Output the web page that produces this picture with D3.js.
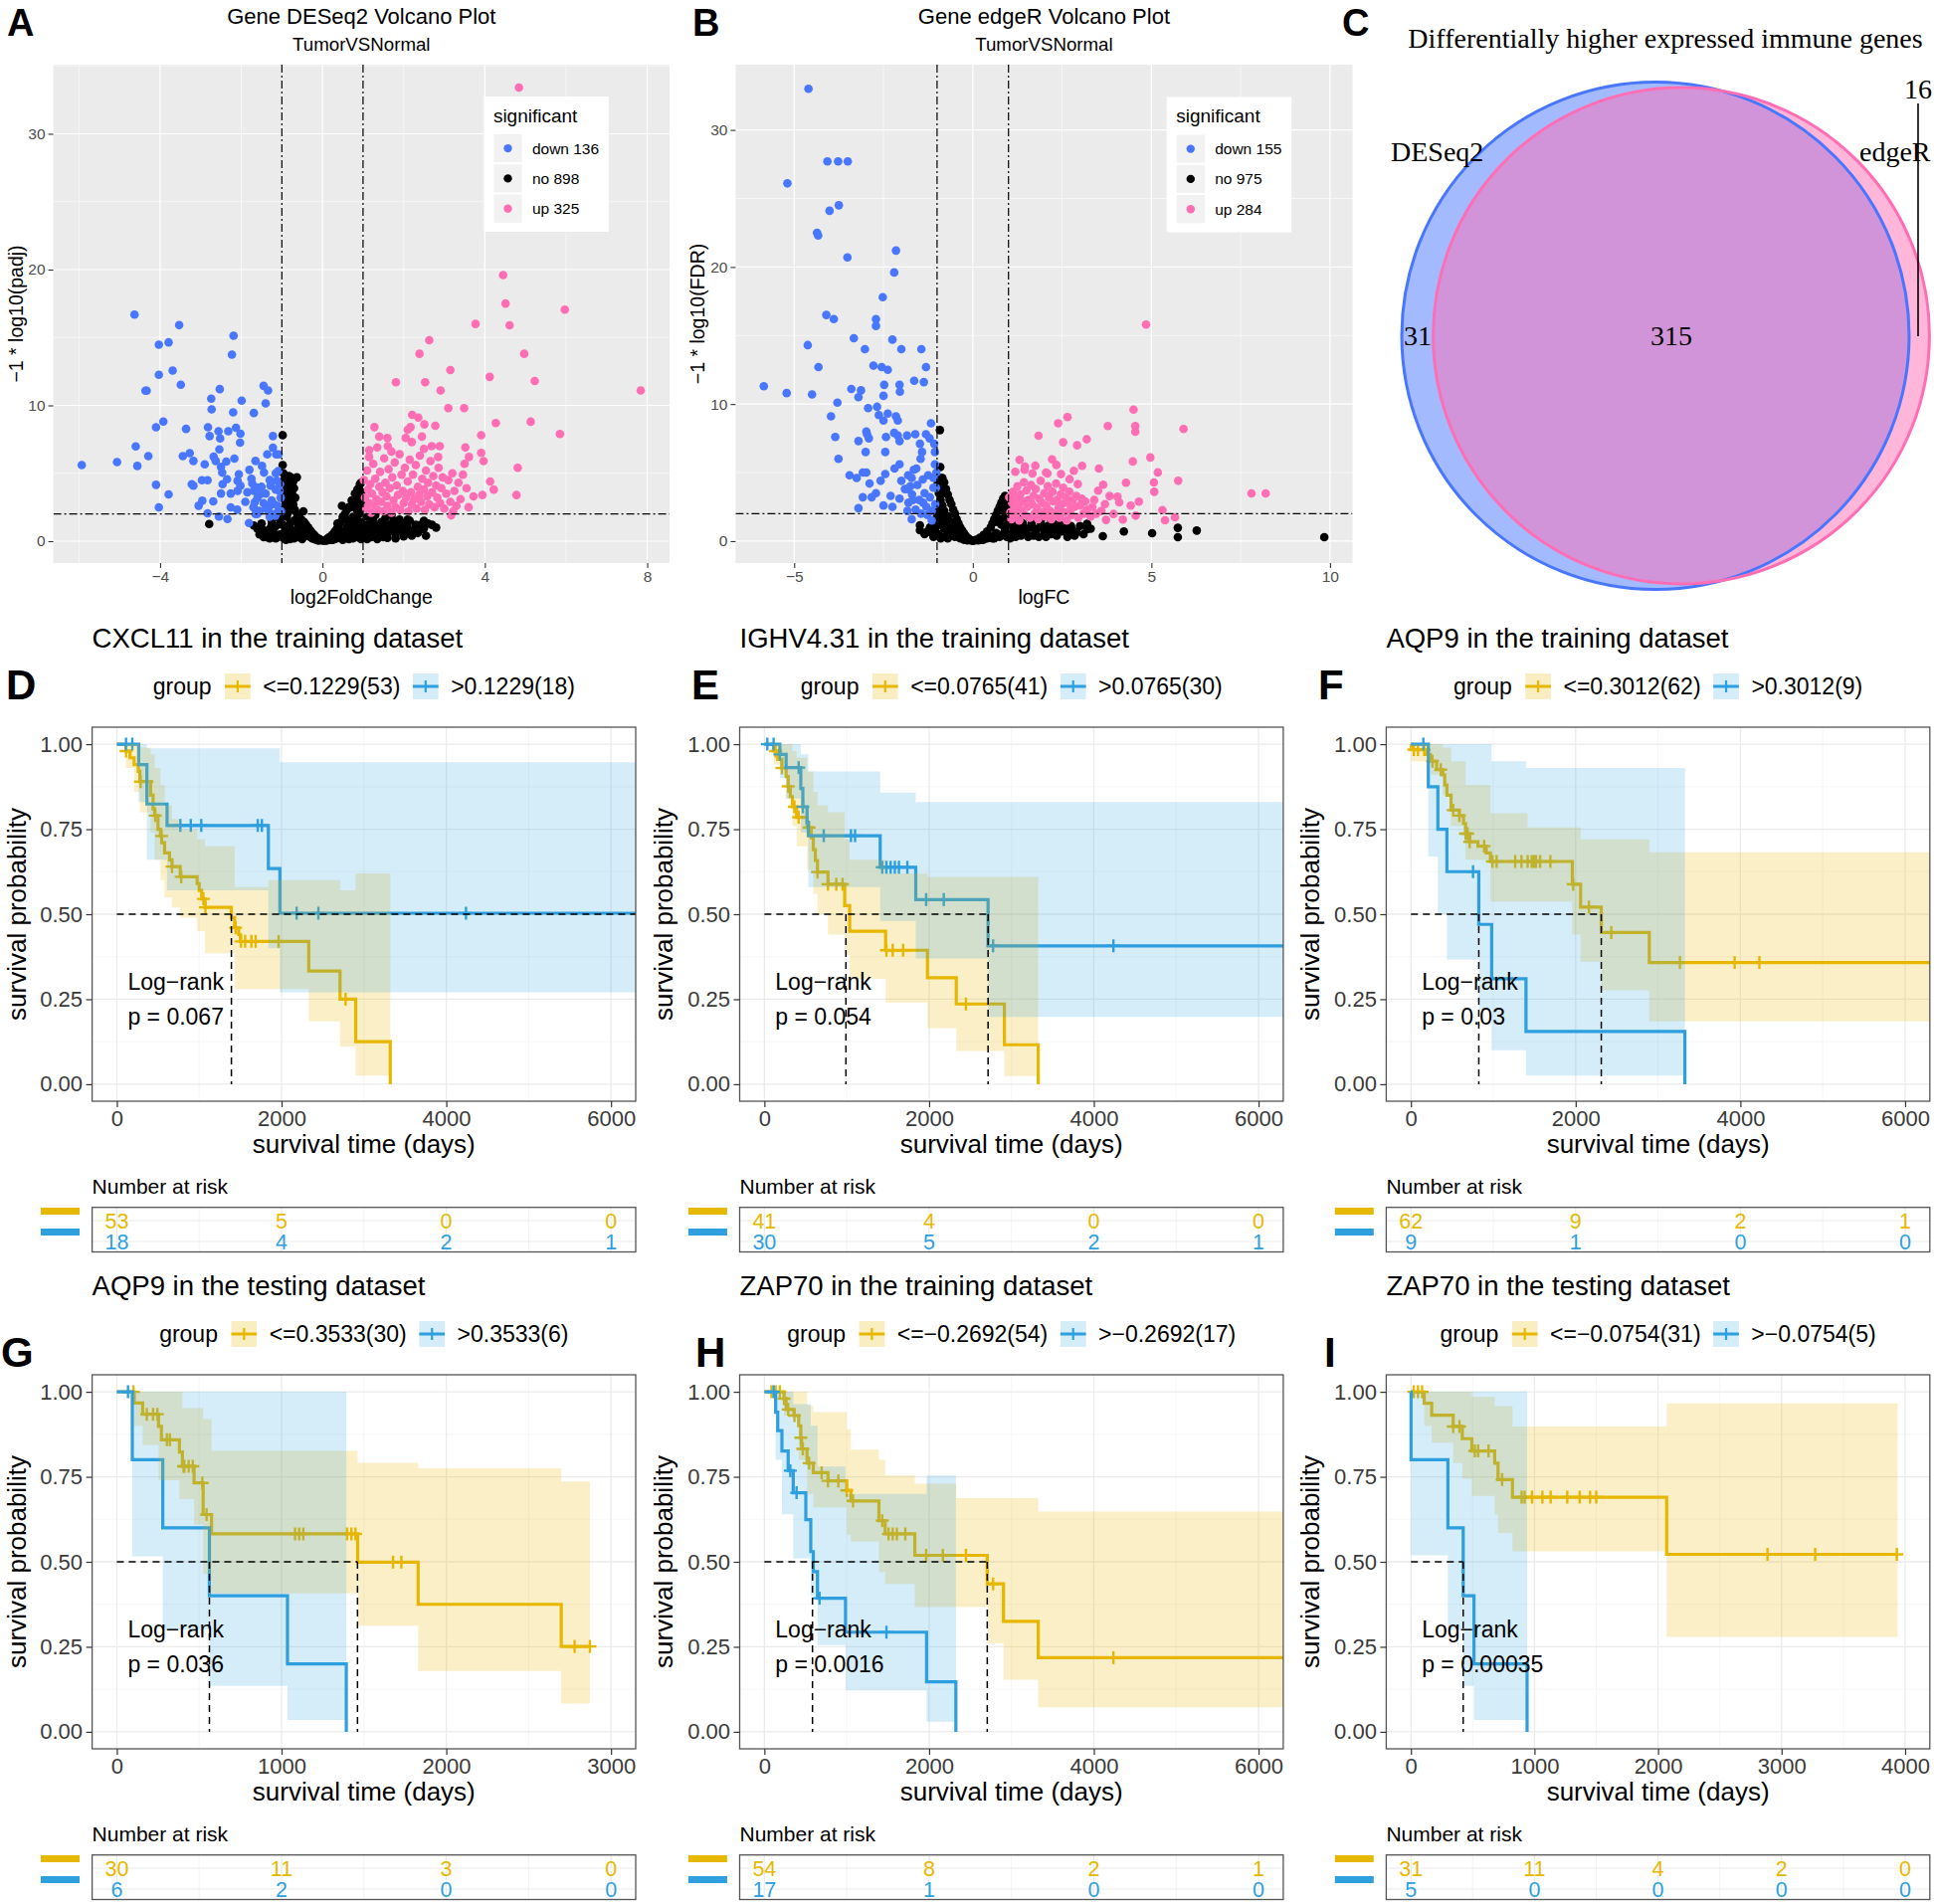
<!DOCTYPE html>
<html><head><meta charset="utf-8">
<script src="https://cdn.jsdelivr.net/npm/d3@7"></script>
<style>body{margin:0;background:#fff;overflow:hidden} svg{display:block}</style>
</head><body><svg id="c" width="1944" height="1914"></svg>
<script>
// ================= DATA =================
// --- Volcano A (DESeq2): [log2FoldChange, -log10(padj)]
const A_down = [[-5.93,5.61],[-5.06,5.83],[-4.63,16.69],[-4.60,6.98],[-4.56,5.54],[-4.36,11.08],[-4.33,11.08],[-4.29,6.27],[-4.10,8.39],[-4.10,4.15],[-4.03,14.47],[-4.03,12.25],[-4.03,2.49],[-3.92,8.81],[-3.79,14.64],[-3.79,3.44],[-3.69,12.57],[-3.53,15.91],[-3.49,11.52],[-3.44,6.27],[-3.36,8.27],[-3.27,6.49],[-3.18,5.91],[-3.22,4.20],[-3.18,4.08],[-3.05,2.61],[-2.96,2.98],[-2.90,5.66],[-2.97,4.49],[-2.83,4.49],[-2.83,2.05],[-2.82,8.39],[-2.78,7.74],[-2.74,10.49],[-2.73,9.71],[-2.69,2.93],[-2.68,6.22],[-2.63,5.91],[-2.56,8.10],[-2.53,11.20],[-2.52,7.56],[-2.55,1.81],[-2.54,6.76],[-2.50,5.47],[-2.47,5.05],[-2.46,4.20],[-2.50,3.51],[-2.37,5.86],[-2.35,4.56],[-2.34,1.63],[-2.32,8.10],[-2.26,3.51],[-2.26,2.49],[-2.23,13.74],[-2.19,15.13],[-2.20,9.49],[-2.17,6.08],[-2.13,8.35],[-2.09,4.44],[-2.09,3.71],[-2.10,2.32],[-2.06,4.93],[-2.03,7.25],[-2.02,7.91],[-2.02,4.08],[-1.99,10.35],[-1.81,1.34],[-1.80,5.25],[-1.73,4.25],[-1.69,9.44],[-1.69,3.71],[-1.67,2.86],[-1.65,5.91],[-1.61,3.95],[-1.57,2.24],[-1.53,3.47],[-1.49,5.54],[-1.45,11.44],[-1.44,5.05],[-1.40,10.15],[-1.40,2.61],[-1.36,6.39],[-1.34,11.10],[-1.32,2.49],[-1.28,4.08],[-1.22,6.88],[-1.22,7.74],[-1.20,2.73],[-1.14,6.39],[-1.12,4.44],[-1.09,5.17],[-1.08,6.39],[-1.06,3.71],[-1.08,2.24],[-1.16,1.88],[-1.61,2.00],[-1.7,2.5],[-1.6,3.2],[-1.55,2.2],[-1.5,4.0],[-1.45,2.8],[-1.4,3.5],[-1.35,2.3],[-1.3,4.5],[-1.25,3.0],[-1.2,2.0],[-1.15,3.8],[-1.1,2.6],[-1.05,4.2],[-1.03,3.2],[-1.02,2.2],[-1.9,2.9],[-1.85,3.6],[-1.75,4.6],[-1.65,2.0],[-1.3,1.8],[-1.15,5.0]];
const A_no = [[-0.98,7.8],[-0.98,5.6],[-0.96,5.0],[-0.93,4.6],[-0.88,4.7],[-0.83,4.8],[-0.78,4.7],[-0.72,4.4],[-0.63,4.7],[-0.7,3.9],[-0.95,3.8],[-0.92,3.3],[-0.85,3.0],[-0.8,3.6],[-0.75,3.2],[-0.9,2.8],[-0.97,2.5],[-0.95,2.1],[-0.88,1.8],[-0.8,2.4],[-0.72,2.7],[-0.68,2.3],[-0.62,2.0],[-0.58,1.8],[-0.52,1.6],[-0.47,2.2],[-0.45,1.4],[-0.4,1.2],[-0.35,1.0],[-0.3,0.8],[-0.25,0.6],[-0.2,0.45],[-0.15,0.3],[-0.1,0.2],[-0.05,0.1],[0,0.05],[-0.6,1.2],[-0.7,1.5],[-0.8,1.3],[-0.9,1.0],[-0.95,0.6],[-0.85,0.5],[-0.75,0.8],[-0.65,0.6],[-0.55,0.9],[-0.5,0.5],[-0.4,0.4],[-0.3,0.3],[-0.2,0.15],[-0.6,0.3],[-0.7,0.2],[-0.95,0.2],[-1.1,0.3],[-1.2,0.6],[-1.3,0.9],[-1.38,0.3],[-1.45,0.8],[-1.55,0.5],[-1.3,0.2],[-1.15,1.1],[-1.25,1.5],[-2.79,1.27],[-1.69,1.15],[-1.05,1.6],[-1.0,1.9],[-1.02,1.3],[0.05,0.05],[0.1,0.15],[0.15,0.25],[0.2,0.35],[0.25,0.5],[0.3,0.7],[0.35,0.9],[0.4,1.1],[0.45,1.4],[0.48,2.6],[0.5,1.8],[0.55,2.0],[0.6,2.3],[0.65,2.5],[0.7,2.5],[0.72,3.0],[0.75,2.8],[0.8,3.5],[0.83,3.2],[0.86,3.8],[0.9,3.9],[0.92,4.2],[0.95,4.3],[0.97,3.6],[0.98,3.0],[0.99,2.4],[0.37,1.3],[0.3,0.3],[0.4,0.5],[0.5,0.7],[0.6,1.0],[0.7,1.3],[0.8,1.6],[0.9,2.0],[0.55,0.4],[0.65,0.7],[0.75,0.9],[0.85,1.1],[0.95,1.4],[0.2,0.1],[0.3,0.15],[0.45,0.25],[0.6,0.35],[0.8,0.4],[0.9,0.6],[1.05,0.6],[1.1,1.2],[1.15,0.4],[1.2,0.9],[1.25,1.5],[1.3,0.7],[1.35,1.1],[1.4,0.5],[1.45,1.4],[1.5,0.9],[1.55,1.7],[1.6,0.6],[1.65,1.2],[1.7,0.8],[1.75,1.5],[1.8,0.5],[1.85,1.1],[1.9,1.6],[1.95,0.8],[2.0,1.3],[2.05,0.6],[2.1,1.0],[2.15,1.5],[2.23,0.75],[2.3,1.2],[2.4,1.19],[2.45,0.9],[2.6,1.3],[1.1,1.8],[1.3,1.9],[1.5,0.3],[1.7,1.9],[1.2,0.3],[2.5,1.5],[2.7,1.2],[-0.9,0.1],[-0.8,0.15],[-0.7,0.4],[-0.6,0.7],[-0.5,0.15],[-0.45,0.8],[-0.35,0.5],[-0.25,0.2],[-0.15,0.1],[-0.1,0.05],[0.1,0.05],[0.15,0.1],[0.25,0.1],[0.35,0.2],[0.5,0.1],[0.5,0.45],[0.65,0.15],[0.7,0.5],[0.75,0.2],[0.85,0.3],[0.95,0.15],[1.0,0.9],[1.0,0.3],[1.1,0.15],[1.2,1.3],[1.3,0.4],[1.35,0.15],[1.45,0.6],[1.55,1.1],[1.6,0.25],[1.75,1.0],[1.8,0.2],[1.9,0.9],[2.0,0.35],[2.1,1.6],[2.2,0.4],[2.35,0.6],[2.5,0.95],[2.55,0.4],[2.8,1.0],[-1.05,0.5],[-1.15,0.2],[-1.25,1.2],[-1.35,0.6],[-1.45,0.3],[-1.6,0.9],[-1.5,1.3],[-1.2,1.8],[-0.85,2.1],[-0.65,1.6],[-0.55,1.3],[-0.98,1.2],[-0.75,3.6],[-0.9,3.8],[-0.85,4.2],[-0.67,3.2],[0.65,1.4],[0.75,1.8],[0.85,2.3],[0.9,2.8],[0.95,3.3],[0.6,1.6],[0.45,0.6],[0.35,0.45]];
const A_up = [[4.84,33.4],[4.45,19.6],[4.51,17.5],[5.97,17.05],[3.77,16.0],[4.61,15.9],[2.63,14.8],[2.39,13.8],[4.97,13.8],[3.15,12.6],[4.12,12.1],[1.81,11.7],[2.53,11.7],[5.23,11.8],[2.91,11.1],[7.84,11.1],[3.10,9.8],[3.49,9.8],[2.21,9.3],[2.36,9.1],[4.27,8.7],[5.13,8.8],[1.28,8.4],[2.17,8.4],[2.51,8.6],[2.78,8.5],[5.85,7.9],[1.40,7.7],[2.05,7.6],[2.45,7.7],[3.91,7.8],[1.61,7.0],[2.69,7.0],[2.89,7.0],[3.52,6.9],[1.15,6.7],[3.91,6.5],[3.61,6.2],[3.97,5.9],[4.81,5.4],[3.46,4.9],[4.13,4.4],[4.22,3.8],[3.94,3.4],[3.72,3.3],[4.78,3.4],[3.22,2.2],[3.17,1.9],[1.02,4.5],[1.05,3.2],[1.08,2.4],[1.1,5.2],[1.12,3.8],[1.15,2.8],[1.18,4.2],[1.2,2.1],[1.22,3.5],[1.25,5.7],[1.28,2.6],[1.3,4.6],[1.33,3.1],[1.36,2.3],[1.4,4.0],[1.42,5.1],[1.45,2.9],[1.48,3.6],[1.5,2.2],[1.52,6.1],[1.55,4.3],[1.58,3.3],[1.6,2.6],[1.63,5.3],[1.66,3.9],[1.7,2.1],[1.72,4.7],[1.75,3.0],[1.78,5.8],[1.8,2.5],[1.83,4.1],[1.86,3.4],[1.9,6.4],[1.92,2.3],[1.95,4.9],[1.98,3.7],[2.0,2.8],[2.03,5.4],[2.06,3.2],[2.1,4.4],[2.12,2.2],[2.15,6.0],[2.18,3.6],[2.2,2.7],[2.23,4.9],[2.26,3.1],[2.3,5.6],[2.32,2.4],[2.35,4.0],[2.38,3.4],[2.4,6.3],[2.43,2.9],[2.46,4.6],[2.5,3.8],[2.52,2.3],[2.55,5.2],[2.58,3.3],[2.6,4.3],[2.63,2.7],[2.66,5.9],[2.7,3.6],[2.73,4.8],[2.76,2.5],[2.8,4.1],[2.83,3.2],[2.86,5.4],[2.9,2.8],[2.93,3.9],[2.96,4.7],[3.0,2.4],[3.05,3.5],[3.1,4.5],[3.15,2.9],[3.2,5.0],[3.25,3.7],[3.3,2.6],[3.35,4.3],[3.4,3.1],[3.5,5.7],[3.55,3.9],[3.6,2.5],[1.35,6.9],[1.7,6.6],[2.2,7.3],[2.5,6.8],[2.85,6.2],[1.15,6.2],[1.6,7.6],[2.1,8.2]];
// --- Volcano B (edgeR): [logFC, -log10(FDR)]
const B_down = [[-4.60,33.0],[-4.07,27.7],[-3.77,27.7],[-3.50,27.7],[-5.19,26.1],[-3.75,24.5],[-4.01,24.1],[-4.36,22.5],[-4.33,22.3],[-3.51,20.7],[-2.15,21.2],[-2.20,19.6],[-2.52,17.8],[-4.10,16.5],[-3.89,16.2],[-2.71,16.2],[-2.71,15.7],[-4.62,14.3],[-3.33,14.8],[-3.02,14.0],[-2.25,14.7],[-2.00,14.0],[-1.44,14.0],[-4.32,12.7],[-2.78,12.8],[-2.55,12.7],[-2.38,12.5],[-1.31,12.7],[-5.85,11.3],[-2.48,11.4],[-2.05,11.4],[-1.64,11.7],[-1.37,11.6],[-5.21,10.8],[-4.50,10.7],[-3.40,11.1],[-3.13,11.0],[-2.04,10.9],[-3.20,10.5],[-2.50,10.6],[-3.79,10.1],[-2.93,9.7],[-2.68,9.8],[-2.38,9.3],[-2.15,9.1],[-3.97,9.1],[-2.63,9.2],[-2.50,8.8],[-2.10,8.8],[-1.17,8.6],[-2.98,8.0],[-2.20,7.9],[-3.85,7.6],[-2.96,7.8],[-2.43,7.6],[-2.10,7.7],[-1.84,7.7],[-1.61,7.8],[-1.31,7.8],[-3.20,7.3],[-2.91,7.5],[-2.05,7.3],[-1.48,7.1],[-1.21,7.5],[-1.08,7.1],[-3.00,6.5],[-2.45,6.5],[-1.42,6.5],[-3.76,6.0],[-1.46,6.0],[-1.06,5.6],[-2.05,5.6],[-2.19,5.3],[-2.45,4.9],[-2.98,5.0],[-3.08,5.0],[-3.45,4.8],[-3.25,4.6],[-2.89,4.2],[-2.58,4.4],[-1.81,4.8],[-1.71,4.6],[-1.58,5.3],[-1.83,3.8],[-2.71,3.5],[-3.08,3.2],[-2.83,3.2],[-2.30,3.3],[-2.05,3.1],[-1.68,3.0],[-1.39,2.8],[-2.50,2.6],[-2.25,2.5],[-3.20,2.4],[-1.83,2.2],[-1.71,1.6],[-1.27,1.9],[-1.15,1.5],[-1.03,3.9],[-1.10,4.6],[-1.06,6.5],[-1.8,2.8],[-1.7,3.4],[-1.6,2.3],[-1.55,4.1],[-1.5,3.0],[-1.45,2.0],[-1.4,4.5],[-1.35,3.5],[-1.3,2.5],[-1.25,4.8],[-1.2,3.2],[-1.15,2.2],[-1.1,3.9],[-1.05,2.7],[-1.02,5.0],[-1.9,3.8],[-2.0,4.4],[-1.65,5.2],[-1.75,4.0]];
const B_no = [[-0.92,8.1],[-0.91,5.4],[-0.85,4.6],[-0.8,4.3],[-0.75,3.8],[-0.7,3.4],[-0.65,3.0],[-0.6,2.7],[-0.55,2.3],[-0.5,2.0],[-0.45,1.6],[-0.4,1.3],[-0.35,1.0],[-0.3,0.8],[-0.25,0.6],[-0.2,0.4],[-0.15,0.25],[-0.1,0.15],[-0.05,0.05],[0,0.02],[-0.95,3.5],[-0.9,3.0],[-0.85,2.6],[-0.95,2.2],[-0.88,1.9],[-0.8,2.2],[-0.7,1.8],[-0.6,1.4],[-0.5,1.1],[-0.4,0.7],[-0.3,0.4],[-0.9,1.2],[-0.8,0.9],[-0.7,0.6],[-0.6,0.4],[-0.5,0.3],[-0.95,0.5],[-1.05,0.9],[-1.15,0.6],[-1.27,0.7],[-1.48,0.8],[-1.48,1.15],[-1.1,1.5],[-1.0,1.8],[-0.97,2.7],[-0.93,3.8],[0.05,0.05],[0.1,0.1],[0.2,0.25],[0.3,0.45],[0.4,0.7],[0.5,1.0],[0.55,1.3],[0.6,1.6],[0.65,1.9],[0.7,2.2],[0.75,2.5],[0.8,2.8],[0.85,3.1],[0.9,3.3],[0.95,3.0],[0.98,2.5],[0.3,0.1],[0.5,0.3],[0.7,0.5],[0.9,0.8],[0.6,0.2],[0.8,1.2],[0.9,1.7],[0.95,2.0],[0.4,0.2],[1.05,0.5],[1.1,1.1],[1.2,0.3],[1.3,0.8],[1.4,1.3],[1.5,0.6],[1.6,1.0],[1.7,0.4],[1.8,0.9],[1.9,1.4],[2.0,0.6],[2.1,1.1],[2.2,0.5],[2.3,0.9],[2.4,1.3],[2.5,0.7],[2.6,1.0],[2.7,0.5],[2.8,0.8],[2.91,0.65],[3.0,1.1],[3.2,1.26],[3.2,0.87],[3.1,0.5],[2.2,1.5],[1.3,1.6],[1.6,1.7],[2.0,1.8],[1.15,1.9],[3.64,0.36],[4.23,0.70],[5.02,0.58],[5.74,0.97],[5.74,0.29],[6.27,0.77],[9.84,0.29],[-0.9,0.2],[-0.8,0.3],[-0.7,0.2],[-0.65,0.9],[-0.55,0.6],[-0.45,0.4],[-0.35,0.2],[-0.25,0.1],[-0.15,0.05],[0.15,0.05],[0.25,0.1],[0.35,0.3],[0.45,0.4],[0.55,0.2],[0.65,0.6],[0.75,0.3],[0.85,0.5],[0.95,0.3],[0.95,1.1],[1.0,1.5],[1.05,0.2],[1.15,0.8],[1.25,1.2],[1.35,0.4],[1.45,0.9],[1.55,0.3],[1.65,1.3],[1.75,0.7],[1.85,0.3],[1.95,1.0],[2.05,0.3],[2.15,0.8],[2.25,1.2],[2.35,0.4],[2.45,0.9],[2.55,1.3],[2.65,0.3],[2.75,1.1],[2.85,0.4],[3.3,0.9],[-1.0,1.2],[-1.1,0.3],[-1.2,1.0],[-1.35,0.5],[-0.95,1.5],[-0.85,1.4],[-0.75,1.2],[-0.98,4.2],[-0.9,4.6],[-0.85,3.9],[-0.8,3.5],[0.85,2.2],[0.9,2.5],[0.95,2.7],[0.75,1.6],[0.7,1.4]];
const B_up = [[4.85,15.8],[4.50,9.6],[2.65,9.05],[2.39,8.6],[3.78,8.4],[4.55,8.4],[4.55,7.98],[5.90,8.18],[1.84,7.69],[3.19,7.43],[2.53,7.21],[2.92,6.99],[4.97,6.10],[4.48,5.81],[1.31,5.93],[2.22,5.97],[3.06,5.49],[3.53,5.30],[1.46,5.44],[1.19,5.06],[1.67,4.93],[2.09,4.93],[2.83,5.13],[5.18,5.01],[2.34,5.56],[2.47,4.89],[2.71,4.52],[2.94,4.16],[4.29,4.26],[5.07,4.28],[5.75,4.40],[5.08,3.60],[3.65,4.11],[3.51,3.68],[7.80,3.48],[8.20,3.48],[3.83,3.29],[4.05,3.24],[4.10,2.83],[4.42,2.59],[4.65,2.88],[5.31,2.27],[5.38,1.52],[5.66,1.74],[4.56,1.86],[4.20,1.57],[3.73,1.55],[3.94,1.98],[1.02,3.2],[1.05,2.1],[1.08,1.6],[1.1,2.8],[1.13,3.6],[1.16,2.4],[1.2,1.8],[1.22,3.1],[1.25,4.0],[1.28,2.6],[1.3,1.5],[1.33,3.4],[1.36,2.2],[1.4,2.9],[1.43,4.3],[1.46,1.9],[1.5,3.7],[1.53,2.5],[1.56,3.0],[1.6,1.7],[1.63,4.1],[1.66,2.7],[1.7,3.3],[1.73,2.0],[1.76,3.8],[1.8,2.4],[1.83,1.6],[1.86,3.1],[1.9,4.4],[1.93,2.8],[1.96,2.1],[2.0,3.5],[2.03,1.8],[2.06,2.6],[2.1,4.0],[2.13,3.2],[2.16,2.2],[2.2,1.6],[2.23,3.6],[2.26,2.9],[2.3,2.0],[2.33,4.2],[2.36,3.0],[2.4,2.4],[2.43,1.7],[2.46,3.4],[2.5,2.7],[2.53,3.9],[2.56,2.1],[2.6,3.2],[2.63,1.5],[2.66,2.8],[2.7,3.6],[2.73,2.3],[2.76,1.9],[2.8,3.0],[2.85,2.5],[2.9,3.3],[2.95,1.7],[3.0,2.6],[3.05,3.1],[3.1,2.0],[3.15,2.9],[3.2,2.3],[3.3,1.8],[3.35,2.5],[3.4,3.0],[3.45,2.0],[3.6,2.2],[3.7,2.7],[1.45,5.2],[1.75,5.5],[2.05,5.0]];
const A_counts = {down:136, no:898, up:325};
const B_counts = {down:155, no:975, up:284};
const volcXTicksA = [-4,0,4,8], volcXTicksB = [-5,0,5,10], volcYTicks = [0,10,20,30];

// --- Venn C
const vennNames = ['DESeq2','edgeR'];
const vennOnly = [31, 16];
const vennBoth = 315;

// --- Kaplan-Meier panels: steps [time, surv], censor times, CI [time, lower, upper]
const D_lo_steps=[[0,1],[110,0.98],[160,0.96],[210,0.94],[260,0.92],[280,0.89],[410,0.85],[440,0.81],[460,0.79],[500,0.75],[530,0.73],[545,0.71],[580,0.68],[640,0.66],[670,0.64],[770,0.61],[975,0.59],[1000,0.57],[1030,0.545],[1070,0.52],[1390,0.49],[1430,0.46],[1480,0.44],[1500,0.42],[2330,0.333],[2710,0.25],[2900,0.125],[3320,0]];
const D_lo_cens=[112,289,365,467,543,670,782,1051,1076,1442,1508,1558,1634,1685,1964,2777];
const D_lo_ci=[[0,1,1],[110,0.93,1],[210,0.86,1],[280,0.80,0.99],[410,0.74,0.97],[460,0.66,0.93],[530,0.60,0.88],[580,0.55,0.82],[670,0.52,0.78],[770,0.49,0.75],[975,0.45,0.72],[1070,0.385,0.70],[1430,0.28,0.58],[1840,0.28,0.60],[2330,0.185,0.60],[2710,0.11,0.57],[2900,0.025,0.62]];
const D_hi_steps=[[0,1],[265,0.94],[365,0.824],[610,0.761],[1840,0.634],[1980,0.503]];
const D_hi_cens=[112,188,771,898,1025,1711,1761,2183,2447,4239];
const D_hi_ci=[[0,1,1],[265,0.83,1],[365,0.66,0.988],[610,0.57,0.988],[1840,0.40,0.988],[1980,0.27,0.947]];

const E_lo_steps=[[0,1],[112,0.98],[162,0.955],[213,0.93],[264,0.905],[289,0.876],[315,0.846],[340,0.816],[391,0.785],[518,0.755],[569,0.725],[594,0.69],[619,0.658],[645,0.624],[772,0.588],[975,0.525],[1036,0.45],[1472,0.394],[1980,0.313],[2330,0.236],[2914,0.116],[3325,0]];
const E_lo_cens=[137,213,289,365,416,543,645,772,873,949,1482,1558,1685,2447];
const E_lo_ci=[[0,1,1],[112,0.94,1],[264,0.84,1],[340,0.76,0.98],[391,0.70,0.96],[518,0.63,0.92],[594,0.56,0.86],[645,0.50,0.82],[772,0.44,0.80],[975,0.38,0.72],[1036,0.31,0.66],[1472,0.24,0.62],[1980,0.165,0.61],[2330,0.098,0.61],[2914,0.024,0.61]];
const E_hi_steps=[[0,1],[188,0.97],[264,0.931],[442,0.87],[467,0.816],[518,0.77],[533,0.731],[1406,0.638],[1838,0.543],[2716,0.407]];
const E_hi_cens=[36,112,188,416,467,721,1051,1101,1431,1482,1533,1584,1634,1736,1964,2178,2777,4238];
const E_hi_ci=[[0,1,1],[188,0.90,1],[264,0.84,1],[442,0.74,0.97],[533,0.58,0.92],[1406,0.48,0.858],[1838,0.37,0.83],[2716,0.198,0.83]];

const F_lo_steps=[[0,1],[5,0.984],[185,0.97],[236,0.95],[312,0.925],[387,0.91],[410,0.88],[437,0.85],[487,0.806],[588,0.79],[638,0.767],[663,0.737],[713,0.713],[814,0.70],[915,0.68],[965,0.655],[1960,0.588],[2060,0.521],[2311,0.446],[2894,0.358]];
const F_lo_cens=[35,85,161,261,362,513,588,663,688,714,889,990,1040,1266,1342,1417,1467,1492,1518,1568,1693,1970,2161,2432,3266,3930,4231];
const F_lo_ci=[[0,1,1],[5,0.95,1],[236,0.91,1],[387,0.85,0.99],[487,0.76,0.95],[663,0.66,0.88],[965,0.537,0.797],[1417,0.537,0.755],[1960,0.44,0.755],[2060,0.36,0.72],[2311,0.276,0.72],[2894,0.185,0.682]];
const F_hi_steps=[[0,1],[211,0.875],[327,0.75],[437,0.625],[824,0.47],[980,0.31],[1397,0.155],[3326,0]];
const F_hi_cens=[151,754];
const F_hi_ci=[[0,1,1],[211,0.67,1],[327,0.50,1],[437,0.367,1],[824,0.22,1],[980,0.10,0.95],[1397,0.025,0.93]];

const G_lo_steps=[[0,1],[106,0.967],[157,0.934],[253,0.898],[271,0.859],[380,0.823],[398,0.781],[469,0.732],[524,0.639],[575,0.582],[1462,0.499],[1829,0.375],[2698,0.251]];
const G_lo_cens=[101,182,220,246,304,322,405,410,436,461,519,545,1082,1107,1132,1398,1424,1449,1677,1727,2779,2872];
const G_lo_ci=[[0,1,1],[106,0.90,1],[157,0.844,1],[253,0.74,1],[380,0.684,1],[398,0.684,0.952],[469,0.61,0.952],[524,0.465,0.92],[575,0.407,0.826],[1462,0.312,0.791],[1829,0.179,0.775],[2698,0.083,0.736]];
const G_hi_steps=[[0,1],[94,0.8],[279,0.6],[562,0.4],[1036,0.2],[1393,0]];
const G_hi_cens=[68];
const G_hi_ci=[[0,1,1],[94,0.516,1],[279,0.30,1],[562,0.135,1],[1036,0.035,1]];

const H_lo_steps=[[0,1],[238,0.98],[264,0.948],[360,0.93],[416,0.90],[442,0.865],[452,0.832],[518,0.79],[594,0.762],[772,0.738],[1000,0.71],[1050,0.679],[1391,0.621],[1467,0.582],[1827,0.519],[2706,0.435],[2903,0.325],[3325,0.218]];
const H_lo_cens=[86,137,188,238,289,365,442,467,543,695,772,898,1000,1076,1431,1508,1558,1609,1711,1964,2167,2447,2777,4238];
const H_lo_ci=[[0,1,1],[238,0.93,1],[416,0.80,1],[518,0.70,0.96],[594,0.66,0.94],[1000,0.58,0.89],[1050,0.56,0.83],[1391,0.47,0.80],[1467,0.435,0.754],[1827,0.367,0.73],[2330,0.367,0.687],[2706,0.26,0.687],[2903,0.153,0.687],[3325,0.072,0.648]];
const H_hi_steps=[[0,1],[137,0.94],[162,0.886],[213,0.826],[289,0.768],[350,0.703],[503,0.624],[563,0.53],[594,0.471],[645,0.393],[985,0.293],[1969,0.147],[2325,0]];
const H_hi_cens=[112,315,391,670,1482];
const H_hi_ci=[[0,1,1],[137,0.80,1],[213,0.64,1],[350,0.51,0.964],[563,0.40,0.90],[645,0.255,0.78],[985,0.122,0.70],[1969,0.03,0.754]];

const I_lo_steps=[[0,1],[107,0.966],[168,0.931],[342,0.898],[416,0.862],[493,0.826],[678,0.79],[705,0.742],[822,0.69],[2070,0.522]];
const I_lo_cens=[23,57,91,342,393,517,544,628,738,896,920,980,1064,1131,1265,1366,1450,1500,2886,3272,3933];
const I_lo_ci=[[0,1,1],[107,0.90,1],[168,0.85,1],[342,0.79,1],[416,0.744,1],[493,0.694,0.985],[678,0.64,0.958],[705,0.585,0.958],[822,0.531,0.898],[2070,0.279,0.966]];
const I_hi_steps=[[0,1],[1,0.8],[299,0.6],[423,0.4],[510,0.2],[940,0]];
const I_hi_cens=[];
const I_hi_ci=[[0,1,1],[1,0.519,1],[299,0.30,1],[423,0.135,1],[510,0.035,1]];

const kmTitles=['CXCL11 in the training dataset','IGHV4.31 in the training dataset','AQP9 in the training dataset','AQP9 in the testing dataset','ZAP70 in the training dataset','ZAP70 in the testing dataset'];
const kmLabLo=['<=0.1229(53)','<=0.0765(41)','<=0.3012(62)','<=0.3533(30)','<=\u22120.2692(54)','<=\u22120.0754(31)'];
const kmLabHi=['>0.1229(18)','>0.0765(30)','>0.3012(9)','>0.3533(6)','>\u22120.2692(17)','>\u22120.0754(5)'];
const kmP=['0.067','0.054','0.03','0.036','0.0016','0.00035'];
const kmXmax=[6000,6000,6000,3000,6000,4000];
const kmEnds=[[3320,6600],[3325,6600],[6600,3326],[2872,1393],[6600,2325],[3940,940]];
const kmMedians=[[1391],[990,2716],[824,2311],[562,1461],[584,2706],[423]];
const kmMedianH=[null,2716,2311,1461,2706,423];
const riskLo=[[53,5,0,0],[41,4,0,0],[62,9,2,1],[30,11,3,0],[54,8,2,1],[31,11,4,2,0]];
const riskHi=[[18,4,2,1],[30,5,2,1],[9,1,0,0],[6,2,0,0],[17,1,0,0],[5,0,0,0,0]];
const kmLetters=['D','E','F','G','H','I'];

// ================= DRAWING =================
const SANS='"Liberation Sans", Arial, Helvetica, sans-serif';
const SERIF='"Liberation Serif", "Times New Roman", serif';
const YEL='#E7B800', BLU='#2E9FDF';
const svg=d3.select('#c').attr('font-family',SANS);
svg.append('rect').attr('width',1944).attr('height',1914).attr('fill','#fff');
const defs=svg.append('defs');

function txt(g,x,y,s,size,o={}){
  const t=g.append('text').attr('x',x).attr('y',y).attr('font-size',size).text(s);
  if(o.anchor) t.attr('text-anchor',o.anchor);
  if(o.fill) t.attr('fill',o.fill);
  if(o.weight) t.attr('font-weight',o.weight);
  if(o.family) t.attr('font-family',o.family);
  return t;
}
function vline(g,x,y1,y2,c,w,dash){const l=g.append('line').attr('x1',x).attr('x2',x).attr('y1',y1).attr('y2',y2).attr('stroke',c).attr('stroke-width',w);if(dash)l.attr('stroke-dasharray',dash);return l;}
function hline(g,y,x1,x2,c,w,dash){const l=g.append('line').attr('y1',y).attr('y2',y).attr('x1',x1).attr('x2',x2).attr('stroke',c).attr('stroke-width',w);if(dash)l.attr('stroke-dasharray',dash);return l;}

// ---------- Volcano ----------
function volcano(v){
  const g=svg.append('g');
  const x=d3.scaleLinear().domain(v.xdom).range([v.L,v.R]);
  const y=d3.scaleLinear().domain(v.ydom).range([v.B,v.T]);
  g.append('rect').attr('x',v.L).attr('y',v.T).attr('width',v.R-v.L).attr('height',v.B-v.T).attr('fill','#EBEBEB');
  const step=v.xticks[1]-v.xticks[0];
  const xmin=[];for(let t=v.xticks[0]-step/2;t<=v.xdom[1];t+=step) if(t>=v.xdom[0]) xmin.push(t);
  const ymin=[];for(let t=5;t<=v.ydom[1];t+=10) ymin.push(t);
  xmin.forEach(d=>vline(g,x(d),v.T,v.B,'#fff',0.6));
  ymin.forEach(d=>hline(g,y(d),v.L,v.R,'#fff',0.6));
  v.xticks.forEach(d=>vline(g,x(d),v.T,v.B,'#fff',1.2));
  volcYTicks.forEach(d=>hline(g,y(d),v.L,v.R,'#fff',1.2));
  defs.append('clipPath').attr('id','cl'+v.id).append('rect').attr('x',v.L).attr('y',v.T).attr('width',v.R-v.L).attr('height',v.B-v.T);
  const pg=g.append('g').attr('clip-path',`url(#cl${v.id})`);
  [[v.no,'#000'],[v.down,'#4876FF'],[v.up,'#FF6EB4']].forEach(([arr,c])=>{
    pg.selectAll(null).data(arr).enter().append('circle').attr('cx',d=>x(d[0])).attr('cy',d=>y(d[1])).attr('r',4.3).attr('fill',c);
  });
  const dd='8,3,2,3';
  [-1,1].forEach(c=>vline(pg,x(c),v.T,v.B,'#000',1.2,dd));
  hline(pg,y(2),v.L,v.R,'#000',1.2,dd);
  const ax=g.append('g').attr('transform',`translate(0,${v.B})`).call(d3.axisBottom(x).tickValues(v.xticks).tickSize(5).tickPadding(3).tickFormat(d3.format('d')));
  const ay=g.append('g').attr('transform',`translate(${v.L},0)`).call(d3.axisLeft(y).tickValues(volcYTicks).tickSize(5).tickPadding(3).tickFormat(d3.format('d')));
  [ax,ay].forEach(a=>{a.select('.domain').remove();a.attr('font-family',SANS).attr('font-size',15.5);a.selectAll('text').attr('fill','#4D4D4D');a.selectAll('line').attr('stroke','#333').attr('stroke-width',1.1);});
  const cx=(v.L+v.R)/2;
  txt(g,cx,24,v.title,22,{anchor:'middle'});
  txt(g,cx,51,'TumorVSNormal',18.7,{anchor:'middle'});
  txt(g,cx,607,v.xlab,19.5,{anchor:'middle'});
  g.append('text').attr('transform',`translate(${v.L-31},${(v.T+v.B)/2}) rotate(-90)`).attr('text-anchor','middle').attr('font-size',19.5).text(v.ylab);
  const lx=v.lgx, ly=v.lgy;
  g.append('rect').attr('x',lx).attr('y',ly).attr('width',125.5).attr('height',136).attr('fill','#fff');
  txt(g,lx+9.5,ly+25.7,'significant',19);
  [['down','#4876FF'],['no','#000'],['up','#FF6EB4']].forEach(([k,c],i)=>{
    const ry=ly+38+i*30.3;
    g.append('rect').attr('x',lx+10).attr('y',ry).attr('width',28.2).attr('height',28.2).attr('fill','#F2F2F2');
    g.append('circle').attr('cx',lx+24.1).attr('cy',ry+14.1).attr('r',4.2).attr('fill',c);
    txt(g,lx+48.5,ry+19.6,`${k} ${v.counts[k]}`,15.5);
  });
}
volcano({id:'A',L:53.6,R:673,T:65,B:566,xdom:[-6.63,8.55],ydom:[-1.61,35.09],xticks:volcXTicksA,no:A_no,down:A_down,up:A_up,counts:A_counts,title:'Gene DESeq2 Volcano Plot',xlab:'log2FoldChange',ylab:'\u22121 * log10(padj)',lgx:486.4,lgy:97});
volcano({id:'B',L:739.4,R:1359.5,T:65,B:566,xdom:[-6.64,10.63],ydom:[-1.6,34.76],xticks:volcXTicksB,no:B_no,down:B_down,up:B_up,counts:B_counts,title:'Gene edgeR Volcano Plot',xlab:'logFC',ylab:'\u22121 * log10(FDR)',lgx:1172.7,lgy:97.5});

// ---------- Venn ----------
(function(){
  const g=svg.append('g').attr('font-family',SERIF);
  const totals=[vennOnly[0]+vennBoth, vennOnly[1]+vennBoth];
  const r=d3.scaleSqrt().domain([0,d3.max(totals)]).range([0,255]);
  const cy=337.5;
  const c1={x:1664,r:r(totals[0])}, c2={x:1690,r:r(totals[1])};
  g.append('circle').attr('cx',c1.x).attr('cy',cy).attr('r',c1.r).attr('fill','#4876FF').attr('fill-opacity',0.5);
  g.append('circle').attr('cx',c2.x).attr('cy',cy).attr('r',c2.r).attr('fill','#FF6EB4').attr('fill-opacity',0.5);
  g.append('circle').attr('cx',c1.x).attr('cy',cy).attr('r',c1.r).attr('fill','none').attr('stroke','#4876FF').attr('stroke-width',3);
  g.append('circle').attr('cx',c2.x).attr('cy',cy).attr('r',c2.r).attr('fill','none').attr('stroke','#FF6EB4').attr('stroke-width',3);
  txt(g,1674,47.5,'Differentially higher expressed immune genes',28,{anchor:'middle',family:SERIF});
  txt(g,1398,162,vennNames[0],28,{family:SERIF});
  txt(g,1869,162,vennNames[1],28,{family:SERIF});
  txt(g,1411,347,String(vennOnly[0]),28,{family:SERIF});
  txt(g,1680,347,String(vennBoth),28,{anchor:'middle',family:SERIF});
  txt(g,1928,99,String(vennOnly[1]),28,{anchor:'middle',family:SERIF});
  vline(g,1928,104,338,'#000',1.6);
})();

// ---------- KM ----------
const kmData={
  D:[D_lo_steps,D_lo_cens,D_lo_ci,D_hi_steps,D_hi_cens,D_hi_ci],
  E:[E_lo_steps,E_lo_cens,E_lo_ci,E_hi_steps,E_hi_cens,E_hi_ci],
  F:[F_lo_steps,F_lo_cens,F_lo_ci,F_hi_steps,F_hi_cens,F_hi_ci],
  G:[G_lo_steps,G_lo_cens,G_lo_ci,G_hi_steps,G_hi_cens,G_hi_ci],
  H:[H_lo_steps,H_lo_cens,H_lo_ci,H_hi_steps,H_hi_cens,H_hi_ci],
  I:[I_lo_steps,I_lo_cens,I_lo_ci,I_hi_steps,I_hi_cens,I_hi_ci]};
const colX=[0,650.9,1300.8], rowY=[0,651];
const letterX=[6,695,1325,1,699,1331];

function survAt(steps,t){let s=steps[0][1];for(const d of steps){if(d[0]<=t)s=d[1];else break;}return s;}

function km(i){
  const L0=kmLetters[i];
  const [loS,loC,loCI,hiS,hiC,hiCI]=kmData[L0];
  const ox=colX[i%3], oy=rowY[Math.floor(i/3)];
  const L=ox+92.6,R=ox+639,T=oy+731,B=oy+1107;
  const xmax=kmXmax[i];
  const x=d3.scaleLinear().domain([-0.05*xmax,1.05*xmax]).range([L,R]);
  const y=d3.scaleLinear().domain([-0.05,1.05]).range([B,T]);
  const g=svg.append('g');
  txt(g,letterX[i],oy+(i<3?703:723),L0,42,{weight:'bold'});
  txt(g,L,oy+651,kmTitles[i],27.5);
  const lg=g.append('g');
  let cx=0;
  const gt=txt(lg,0,oy+698,'group',23);
  cx=gt.node().getComputedTextLength()+13.5;
  [[YEL,kmLabLo[i],0.24],[BLU,kmLabHi[i],0.2]].forEach(([c,lab,op])=>{
    lg.append('rect').attr('x',cx).attr('y',oy+677).attr('width',25.7).attr('height',26).attr('fill',c).attr('fill-opacity',op);
    hline(lg,oy+690,cx,cx+25.7,c,3);
    vline(lg,cx+12.85,oy+684,oy+696,c,2.2);
    const t=txt(lg,cx+25.7+12.5,oy+698,lab,23);
    cx+=25.7+12.5+t.node().getComputedTextLength()+12.6;
  });
  const lw=cx-12.6;
  lg.attr('transform',`translate(${(L+R)/2-lw/2},0)`);
  g.append('rect').attr('x',L).attr('y',T).attr('width',R-L).attr('height',B-T).attr('fill','#fff');
  const xt=d3.range(0,xmax+1,xmax===6000?2000:1000);
  const st=xt[1]-xt[0];
  const xm=[];for(let t=st/2;t<1.05*xmax;t+=st) xm.push(t);
  const yt=[0,0.25,0.5,0.75,1], ym=[0.125,0.375,0.625,0.875];
  xm.forEach(d=>vline(g,x(d),T,B,'#F2F2F2',0.7));
  ym.forEach(d=>hline(g,y(d),L,R,'#F2F2F2',0.7));
  xt.forEach(d=>vline(g,x(d),T,B,'#EBEBEB',1.3));
  yt.forEach(d=>hline(g,y(d),L,R,'#EBEBEB',1.3));
  defs.append('clipPath').attr('id','ck'+i).append('rect').attr('x',L).attr('y',T).attr('width',R-L).attr('height',B-T);
  const pg=g.append('g').attr('clip-path',`url(#ck${i})`);
  const line=d3.line().x(d=>x(d[0])).y(d=>y(d[1])).curve(d3.curveStepAfter);
  const area=d3.area().x(d=>x(d[0])).y0(d=>y(d[1])).y1(d=>y(d[2])).curve(d3.curveStepAfter);
  const ends=kmEnds[i];
  const curves=[[loS,loC,loCI,ends[0],YEL,0.22],[hiS,hiC,hiCI,ends[1],BLU,0.2]];
  curves.forEach(([s,c,ci,end,col])=>{
    const pts=s.concat([[end,s[s.length-1][1]]]);
    pg.append('path').attr('d',line(pts)).attr('fill','none').attr('stroke',col).attr('stroke-width',3.2);
    c.forEach(t=>{const px=x(t),py=y(survAt(s,t));
      hline(pg,py,px-6.5,px+6.5,col,2.4);vline(pg,px,py-6.5,py+6.5,col,2.4);});
  });
  curves.forEach(([s,c,ci,end,col,op])=>{
    const last=ci[ci.length-1];
    const pts=ci.concat([[end,last[1],last[2]]]);
    pg.append('path').attr('d',area(pts)).attr('fill',col).attr('fill-opacity',op);
  });
  const dash='7,5';
  const hEnd=kmMedianH[i]===null?1.05*xmax:kmMedianH[i];
  hline(pg,y(0.5),x(0),x(hEnd),'#000',1.5,dash);
  kmMedians[i].forEach(m=>vline(pg,x(m),y(0.5),y(0),'#000',1.5,dash));
  g.append('rect').attr('x',L).attr('y',T).attr('width',R-L).attr('height',B-T).attr('fill','none').attr('stroke','#555').attr('stroke-width',1.3);
  const ax=g.append('g').attr('transform',`translate(0,${B})`).call(d3.axisBottom(x).tickValues(xt).tickSize(6).tickPadding(3).tickFormat(d3.format('d')));
  const ay=g.append('g').attr('transform',`translate(${L},0)`).call(d3.axisLeft(y).tickValues(yt).tickSize(6).tickPadding(3.5).tickFormat(d3.format('.2f')));
  [ax,ay].forEach(a=>{a.select('.domain').remove();a.attr('font-family',SANS).attr('font-size',22);a.selectAll('text').attr('fill','#3a3a3a');a.selectAll('line').attr('stroke','#333').attr('stroke-width',1.2);});
  txt(g,(L+R)/2,oy+1159,'survival time (days)',26,{anchor:'middle'});
  g.append('text').attr('transform',`translate(${ox+25.5},${(T+B)/2}) rotate(-90)`).attr('text-anchor','middle').attr('font-size',26).text('survival probability');
  txt(g,ox+128.4,oy+995,'Log\u2212rank',23);
  txt(g,ox+128.4,oy+1030,'p = '+kmP[i],23);
  txt(g,L,oy+1199.6,'Number at risk',21);
  const rT=oy+1213.7, rB=oy+1258.5;
  xm.forEach(d=>{if(x(d)<R) vline(g,x(d),rT,rB,'#F0F0F0',0.8);});
  xt.forEach(d=>vline(g,x(d),rT,rB,'#EBEBEB',1.2));
  hline(g,oy+1227,L,R,'#EBEBEB',1.2);
  hline(g,oy+1248,L,R,'#EBEBEB',1.2);
  riskLo[i].forEach((n,j)=>txt(g,x(xt[j]),oy+1235,String(n),21.5,{anchor:'middle',fill:YEL}));
  riskHi[i].forEach((n,j)=>txt(g,x(xt[j]),oy+1256,String(n),21.5,{anchor:'middle',fill:BLU}));
  g.append('rect').attr('x',L).attr('y',rT).attr('width',R-L).attr('height',rB-rT).attr('fill','none').attr('stroke','#555').attr('stroke-width',1.3);
  g.append('rect').attr('x',ox+41).attr('y',oy+1214).attr('width',39).attr('height',7).attr('fill',YEL);
  g.append('rect').attr('x',ox+41).attr('y',oy+1235).attr('width',39).attr('height',7).attr('fill',BLU);
}
for(let i=0;i<6;i++) km(i);

[['A',7],['B',696],['C',1349]].forEach(([l,xx])=>txt(svg,xx,36,l,38,{weight:'bold'}));
</script></body></html>
